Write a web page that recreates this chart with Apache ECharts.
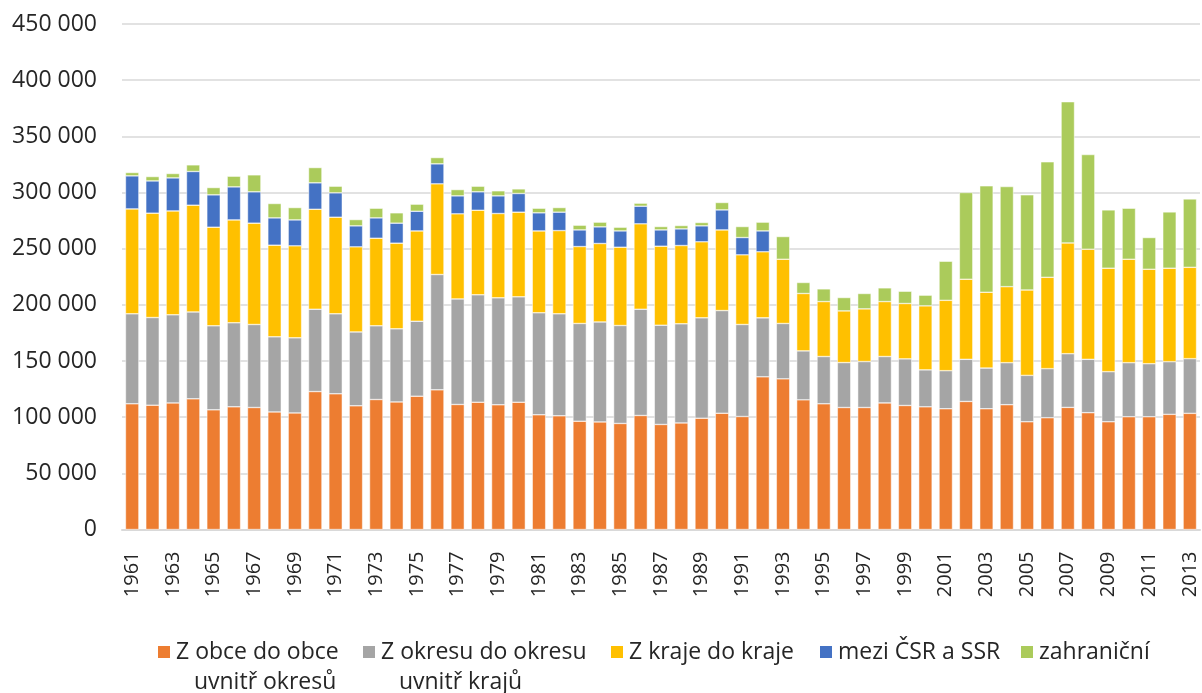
<!DOCTYPE html>
<html>
<head>
<meta charset="utf-8">
<script src="https://cdn.jsdelivr.net/npm/echarts@6/dist/echarts.min.js"></script>
<style>
html,body{margin:0;padding:0;background:#fff;}
#chart{width:1202px;height:693px;}
</style>
</head>
<body>
<div id="chart"></div>
<script>
var years = [];
for (var yr = 1961; yr <= 2013; yr++) years.push(String(yr));

var seriesNames = ['Z obce do obce uvnitř okresů', 'Z okresu do okresu uvnitř krajů', 'Z kraje do kraje', 'mezi ČSR a SSR', 'zahraniční'];
var legendLabels = ['\nZ obce do obce\n   uvnitř okresů', '\nZ okresu do okresu\n   uvnitř krajů', 'Z kraje do kraje', 'mezi ČSR a SSR', 'zahraniční'];

var obce = [111900,110700,112700,116300,106500,109200,108600,104700,103800,122800,
  120800,110100,115700,113600,118700,124300,111300,113300,111000,113300,
  102100,101200,96400,95800,94400,101500,93500,94900,99100,103500,
  100600,135900,134100,115400,111900,108600,108600,112700,110400,109200,
  107500,114000,107500,111100,95900,99500,108700,104000,95900,100400,
  100400,102500,103400];
var okresy = [80100,78000,78400,77400,74800,74800,73900,66800,66800,73300,
  71200,65800,65600,65000,66700,102700,94000,95600,95200,93800,
  90800,90800,87000,89000,87200,94600,88400,88200,89300,91400,
  81900,52500,49300,43600,42100,40000,40900,41300,41500,32900,
  33900,37500,36200,37400,41300,43700,47800,47500,44600,48100,
  47200,46900,48700];
var kraje = [93400,92900,92500,95000,87800,91600,90200,81600,81900,89000,
  86000,75700,78000,76300,80400,80700,75700,75300,75100,75400,
  72900,74100,68500,69800,69700,76000,70300,69700,67700,71800,
  62000,58800,57200,51100,48900,46000,46900,48900,49300,57000,
  62600,71300,67500,67700,76000,81300,98600,98000,92100,92100,
  84100,83200,81300];
var csrSsr = [29400,28700,29400,30000,28800,29400,27900,24300,23100,23500,
  21700,18700,18100,17800,17500,17800,16000,16400,15700,16600,
  16100,16400,14800,14800,14500,15700,14500,14800,14200,17800,
  15400,18600,null,null,null,null,null,null,null,null,
  null,null,null,null,null,null,null,null,null,null,
  null,null,null];
var zahranicni = [3000,3900,3900,5900,6500,9500,15100,12800,11000,13600,
  5900,5600,8600,9200,6300,5600,5600,5000,4500,4100,
  4100,4100,4200,4200,3300,2700,3000,3000,3000,6600,
  9800,7800,20200,9800,11300,11900,13700,12200,10900,9500,
  34800,77200,94700,89100,84700,102800,125700,84300,51900,45400,
  28200,50100,60900];

var colors = ['#ED7D31', '#A5A5A5', '#FFC000', '#4472C4', '#ABCB5B'];
var values = [obce, okresy, kraje, csrSsr, zahranicni];

var FONT = '"Open Sans", "DejaVu Sans", sans-serif';
var LH = 30;
var legendX = [156, 361, 609, 818, 1019];
var threeLine = [true, true, false, false, false];

var legends = seriesNames.map(function (name, i) {
  return {
    data: [{ name: name, icon: 'rect' }],
    left: legendX[i],
    top: threeLine[i] ? 645 - 1.5 * LH + 7 : 645 - LH / 2 + 7,
    padding: 0,
    itemWidth: 14,
    itemHeight: 14,
    selectedMode: false,
    formatter: function () { return legendLabels[i]; },
    textStyle: { fontFamily: FONT, fontSize: 23, color: '#262626', lineHeight: LH }
  };
});

var chart = echarts.init(document.getElementById('chart'), null, { renderer: 'canvas' });
chart.setOption({
  animation: false,
  color: colors,
  grid: { left: 122, right: 2, top: 24, bottom: 163.5, containLabel: false },
  legend: legends,
  xAxis: {
    type: 'category',
    data: years,
    axisLine: { show: true, lineStyle: { color: '#D9D9D9', width: 2 } },
    axisTick: { show: false },
    axisLabel: {
      interval: 1, rotate: 90, margin: 22,
      fontFamily: FONT, fontSize: 20, color: '#262626'
    }
  },
  yAxis: {
    type: 'value',
    min: 0, max: 450000, interval: 50000,
    axisLine: { show: false },
    axisTick: { show: false },
    splitLine: { lineStyle: { color: '#D9D9D9', width: 1.5 } },
    axisLabel: {
      margin: 25, fontFamily: FONT, fontSize: 23, color: '#262626',
      formatter: function (v) { return String(v).replace(/\B(?=(\d{3})+(?!\d))/g, ' '); }
    }
  },
  series: seriesNames.map(function (name, i) {
    return {
      name: name,
      type: 'bar',
      stack: 'total',
      barCategoryGap: '34%',
      data: values[i],
      itemStyle: { color: colors[i], borderColor: '#ffffff', borderWidth: 0.5 }
    };
  })
});
</script>
</body>
</html>
